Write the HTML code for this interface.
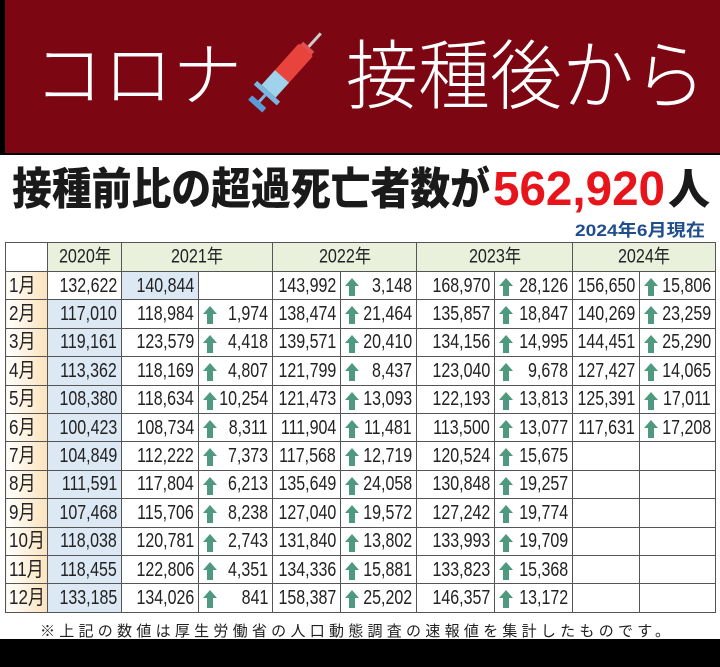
<!DOCTYPE html>
<html><head><meta charset="utf-8"><style>
*{margin:0;padding:0;box-sizing:border-box}
body{width:720px;height:667px;background:#fff;position:relative;overflow:hidden;font-family:"Liberation Sans","Noto Sans CJK JP",sans-serif}
#banner{position:absolute;left:0;top:0;width:720px;height:155px;background:#000}
#red{position:absolute;left:5px;top:0;width:715px;height:153px;background:#7c0612}
#bottom{position:absolute;left:0;top:639px;width:720px;height:28px;background:#000}
table{position:absolute;left:5px;top:242px;border-collapse:collapse;table-layout:fixed;width:710px}
td{border:1px solid #555;height:28.4px;font-family:"Liberation Sans","Noto Sans CJK JP",sans-serif;font-size:20px;color:#222;white-space:nowrap;position:relative}
td span.n{position:absolute;right:4px;top:50%;transform:translateY(-50%) scaleX(.8);transform-origin:100% 50%;line-height:1}
tr.h td{background:#e9f1dd;height:29px;font-size:19px}
tr.h td span.n{right:auto;left:50%;transform:translate(-50%,-50%) scaleX(.85);transform-origin:50% 50%}
td.m{background:linear-gradient(90deg,#fff 0%,#fbe3bd 100%)}
td.m span.n{right:auto;left:3px;transform-origin:0 50%;transform:translateY(-50%) scaleX(.85)}
td.b{background:#dce8f4}
td.a svg{position:absolute;left:4px;top:6px}
</style></head><body>
<div id="banner"></div><div id="red"></div>
<svg width="720" height="240" style="position:absolute;left:0;top:0">
<text x="34" y="100" font-family="Noto Sans CJK JP" font-weight="300" font-size="70" fill="#fff" textLength="208" lengthAdjust="spacingAndGlyphs">コロナ</text>
<g transform="translate(292,72) rotate(42)">
<rect x="-6" y="-48" width="3" height="20" fill="#ccc"/>
<rect x="-12" y="-30" width="15" height="6" fill="#e05050"/>
<rect x="-14" y="-26" width="19" height="38" rx="2" fill="#e8433d"/>
<rect x="-14" y="10" width="19" height="20" fill="#9fd3ec"/>
<rect x="-20" y="30" width="31" height="5" fill="#7ab6e0"/>
<rect x="-6" y="35" width="3" height="10" fill="#7ab6e0"/>
<rect x="-14" y="44" width="19" height="6" fill="#5a9ad6"/>
</g>
<text x="346" y="103" font-family="Noto Sans CJK JP" font-weight="300" font-size="76" fill="#fff" textLength="360" lengthAdjust="spacingAndGlyphs">接種後から</text>
<text x="12" y="204" font-family="Noto Sans CJK JP" font-weight="900" font-size="44" fill="#1a1a1a" textLength="478" lengthAdjust="spacingAndGlyphs">接種前比の超過死亡者数が</text>
<text x="493" y="205" font-family="Liberation Sans" font-weight="bold" font-size="48" fill="#e8141c" textLength="172" lengthAdjust="spacingAndGlyphs">562,920</text>
<text x="668" y="204" font-family="Noto Sans CJK JP" font-weight="900" font-size="42" fill="#1a1a1a">人</text>
<text x="575" y="236" font-family="Liberation Sans,Noto Sans CJK JP" font-weight="bold" font-size="17" fill="#1f4e8c" textLength="130" lengthAdjust="spacingAndGlyphs">2024年6月現在</text>
</svg>
<svg width="0" height="0" style="position:absolute"><defs><symbol id="ar" viewBox="0 0 14 18"><path d="M7 0 L14 8 L10 8 L10 18 L4 18 L4 8 L0 8Z" fill="#4f9a7e"/></symbol></defs></svg>
<table>
<colgroup><col style="width:42px"><col style="width:74px"><col style="width:77px"><col style="width:74px"><col style="width:68px"><col style="width:76px"><col style="width:78px"><col style="width:78px"><col style="width:67px"><col style="width:76px"></colgroup>
<tr class="h"><td style="background:#fff"></td><td>2020年</td><td colspan="2">2021年</td><td colspan="2">2022年</td><td colspan="2">2023年</td><td colspan="2">2024年</td></tr>
<tr><td class="m">1月</td><td>132,622</td><td class="b">140,844</td><td></td><td>143,992</td><td class="a"><svg width="14" height="18"><use href="#ar"/></svg>3,148</td><td>168,970</td><td class="a"><svg width="14" height="18"><use href="#ar"/></svg>28,126</td><td>156,650</td><td class="a"><svg width="14" height="18"><use href="#ar"/></svg>15,806</td></tr>
<tr><td class="m">2月</td><td class="b">117,010</td><td>118,984</td><td class="a"><svg width="14" height="18"><use href="#ar"/></svg>1,974</td><td>138,474</td><td class="a"><svg width="14" height="18"><use href="#ar"/></svg>21,464</td><td>135,857</td><td class="a"><svg width="14" height="18"><use href="#ar"/></svg>18,847</td><td>140,269</td><td class="a"><svg width="14" height="18"><use href="#ar"/></svg>23,259</td></tr>
<tr><td class="m">3月</td><td class="b">119,161</td><td>123,579</td><td class="a"><svg width="14" height="18"><use href="#ar"/></svg>4,418</td><td>139,571</td><td class="a"><svg width="14" height="18"><use href="#ar"/></svg>20,410</td><td>134,156</td><td class="a"><svg width="14" height="18"><use href="#ar"/></svg>14,995</td><td>144,451</td><td class="a"><svg width="14" height="18"><use href="#ar"/></svg>25,290</td></tr>
<tr><td class="m">4月</td><td class="b">113,362</td><td>118,169</td><td class="a"><svg width="14" height="18"><use href="#ar"/></svg>4,807</td><td>121,799</td><td class="a"><svg width="14" height="18"><use href="#ar"/></svg>8,437</td><td>123,040</td><td class="a"><svg width="14" height="18"><use href="#ar"/></svg>9,678</td><td>127,427</td><td class="a"><svg width="14" height="18"><use href="#ar"/></svg>14,065</td></tr>
<tr><td class="m">5月</td><td class="b">108,380</td><td>118,634</td><td class="a"><svg width="14" height="18"><use href="#ar"/></svg>10,254</td><td>121,473</td><td class="a"><svg width="14" height="18"><use href="#ar"/></svg>13,093</td><td>122,193</td><td class="a"><svg width="14" height="18"><use href="#ar"/></svg>13,813</td><td>125,391</td><td class="a"><svg width="14" height="18"><use href="#ar"/></svg>17,011</td></tr>
<tr><td class="m">6月</td><td class="b">100,423</td><td>108,734</td><td class="a"><svg width="14" height="18"><use href="#ar"/></svg>8,311</td><td>111,904</td><td class="a"><svg width="14" height="18"><use href="#ar"/></svg>11,481</td><td>113,500</td><td class="a"><svg width="14" height="18"><use href="#ar"/></svg>13,077</td><td>117,631</td><td class="a"><svg width="14" height="18"><use href="#ar"/></svg>17,208</td></tr>
<tr><td class="m">7月</td><td class="b">104,849</td><td>112,222</td><td class="a"><svg width="14" height="18"><use href="#ar"/></svg>7,373</td><td>117,568</td><td class="a"><svg width="14" height="18"><use href="#ar"/></svg>12,719</td><td>120,524</td><td class="a"><svg width="14" height="18"><use href="#ar"/></svg>15,675</td><td></td><td></td></tr>
<tr><td class="m">8月</td><td class="b">111,591</td><td>117,804</td><td class="a"><svg width="14" height="18"><use href="#ar"/></svg>6,213</td><td>135,649</td><td class="a"><svg width="14" height="18"><use href="#ar"/></svg>24,058</td><td>130,848</td><td class="a"><svg width="14" height="18"><use href="#ar"/></svg>19,257</td><td></td><td></td></tr>
<tr><td class="m">9月</td><td class="b">107,468</td><td>115,706</td><td class="a"><svg width="14" height="18"><use href="#ar"/></svg>8,238</td><td>127,040</td><td class="a"><svg width="14" height="18"><use href="#ar"/></svg>19,572</td><td>127,242</td><td class="a"><svg width="14" height="18"><use href="#ar"/></svg>19,774</td><td></td><td></td></tr>
<tr><td class="m">10月</td><td class="b">118,038</td><td>120,781</td><td class="a"><svg width="14" height="18"><use href="#ar"/></svg>2,743</td><td>131,840</td><td class="a"><svg width="14" height="18"><use href="#ar"/></svg>13,802</td><td>133,993</td><td class="a"><svg width="14" height="18"><use href="#ar"/></svg>19,709</td><td></td><td></td></tr>
<tr><td class="m">11月</td><td class="b">118,455</td><td>122,806</td><td class="a"><svg width="14" height="18"><use href="#ar"/></svg>4,351</td><td>134,336</td><td class="a"><svg width="14" height="18"><use href="#ar"/></svg>15,881</td><td>133,823</td><td class="a"><svg width="14" height="18"><use href="#ar"/></svg>15,368</td><td></td><td></td></tr>
<tr><td class="m">12月</td><td class="b">133,185</td><td>134,026</td><td class="a"><svg width="14" height="18"><use href="#ar"/></svg>841</td><td>158,387</td><td class="a"><svg width="14" height="18"><use href="#ar"/></svg>25,202</td><td>146,357</td><td class="a"><svg width="14" height="18"><use href="#ar"/></svg>13,172</td><td></td><td></td></tr>
</table>
<svg width="720" height="30" style="position:absolute;left:0;top:615px">
<text x="40" y="21" font-family="Noto Sans CJK JP" font-size="15" fill="#222" textLength="630" lengthAdjust="spacing">※上記の数値は厚生労働省の人口動態調査の速報値を集計したものです。</text>
</svg>
<div id="bottom"></div>
<script>
document.querySelectorAll('td').forEach(function(td){
  Array.prototype.slice.call(td.childNodes).forEach(function(n){
    if(n.nodeType===3&&n.textContent.trim()){
      var s=document.createElement('span');s.className='n';s.textContent=n.textContent;td.replaceChild(s,n);
    }
  });
});
</script>
</body></html>
